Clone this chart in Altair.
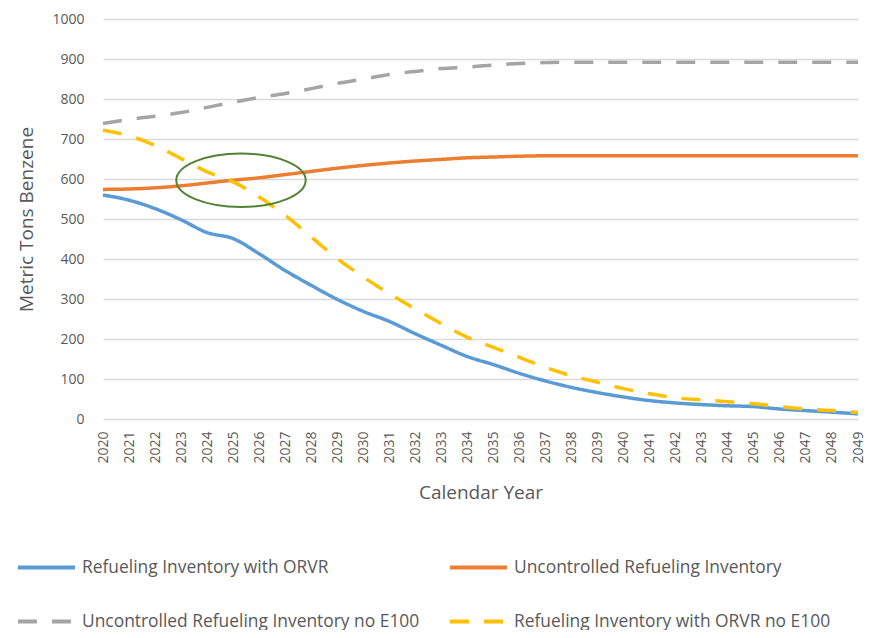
import altair as alt
import pandas as pd

years = [2020, 2021, 2022, 2023, 2024, 2025, 2026, 2027, 2028, 2029,
         2030, 2031, 2032, 2033, 2034, 2035, 2036, 2037, 2038, 2039,
         2040, 2041, 2042, 2043, 2044, 2045, 2046, 2047, 2048, 2049]

orvr = [560, 547, 526, 498, 466, 451, 413, 371, 334, 299,
        269, 244, 213, 184, 156, 136, 114, 95, 79, 66,
        55, 46, 40, 36, 33, 31, 25, 21, 17, 13]

uncontrolled = [574, 575, 578, 583, 590, 597, 603, 611, 619, 627,
                634, 640, 645, 649, 653, 655, 657, 658, 658, 658,
                658, 658, 658, 658, 658, 658, 658, 658, 658, 658]

uncontrolled_no_e100 = [739, 749, 757, 766, 779, 792, 804, 814, 826, 839,
                        850, 861, 869, 876, 880, 885, 889, 891, 892, 892,
                        892, 892, 892, 892, 892, 892, 892, 892, 892, 892]

orvr_no_e100 = [722, 708, 684, 651, 618, 593, 555, 509, 455, 401,
                355, 313, 275, 238, 204, 179, 154, 129, 108, 92,
                76, 63, 53, 48, 43, 38, 31, 25, 21, 16]

series_names = ["Refueling Inventory with ORVR",
                "Uncontrolled Refueling Inventory",
                "Uncontrolled Refueling Inventory no E100",
                "Refueling Inventory with ORVR no E100"]
series_colors = ["#5b9bd5", "#ed7d31", "#a5a5a5", "#ffc000"]
series_dash = [[1, 0], [1, 0], [19, 15], [19, 15]]

y_ticks = [0, 100, 200, 300, 400, 500, 600, 700, 800, 900, 1000]

# annotation ellipse (centre in data units)
ellipse_year = [2025.3]
ellipse_value = [597]

rows = []
for name, vals in zip(series_names, [orvr, uncontrolled, uncontrolled_no_e100, orvr_no_e100]):
    for yr, v in zip(years, vals):
        rows.append({"Year": yr, "Value": v, "Series": name})
df = pd.DataFrame(rows)
ell_df = pd.DataFrame({"Year": ellipse_year, "Value": ellipse_value})

FONT = "Open Sans"
TXT = "#595959"

x_enc = alt.X("Year:Q",
              scale=alt.Scale(domain=[2020, 2049], nice=False, zero=False),
              axis=alt.Axis(values=years, labelAngle=270, format="d",
                            title="Calendar Year", grid=False, ticks=False,
                            domain=False, labelPadding=12, titlePadding=20,
                            labelOverlap=False, labelFlush=False,
                            labelFontSize=14, labelColor=TXT, labelFont=FONT,
                            titleFontSize=19, titleFont=FONT, titleColor=TXT,
                            titleFontWeight="normal"))
y_enc = alt.Y("Value:Q",
              scale=alt.Scale(domain=[0, 1000], nice=False),
              axis=alt.Axis(values=y_ticks, format="d", title="Metric Tons Benzene",
                            grid=True, gridColor="#d9d9d9", gridWidth=1.3,
                            domain=False, ticks=False, labelPadding=19,
                            labelOverlap=False, labelFlush=False,
                            titlePadding=15,
                            labelFontSize=14, labelColor=TXT, labelFont=FONT,
                            titleFontSize=19, titleFont=FONT, titleColor=TXT,
                            titleFontWeight="normal"))

legend = alt.Legend(title=None, orient="none", legendX=-87, legendY=518,
                    columns=2, direction="horizontal", symbolType="stroke",
                    symbolSize=3249, symbolStrokeWidth=4, labelFontSize=17.4,
                    labelFont=FONT, labelColor=TXT, rowPadding=15,
                    columnPadding=22, labelOffset=5, labelLimit=0)

lines = alt.Chart(df).mark_line(strokeWidth=3.5, interpolate="monotone").encode(
    x=x_enc,
    y=y_enc,
    color=alt.Color("Series:N", scale=alt.Scale(domain=series_names, range=series_colors),
                    legend=legend),
    strokeDash=alt.StrokeDash("Series:N", scale=alt.Scale(domain=series_names, range=series_dash),
                              legend=legend),
)

b = 0.413
k = 0.5523
ell_path = (f"M -1 0 C -1 {-k*b:.4f} {-k:.4f} {-b} 0 {-b} "
            f"C {k:.4f} {-b} 1 {-k*b:.4f} 1 0 "
            f"C 1 {k*b:.4f} {k:.4f} {b} 0 {b} "
            f"C {-k:.4f} {b} -1 {k*b:.4f} -1 0 Z")

ellipse = alt.Chart(ell_df).mark_point(shape=ell_path, filled=False, size=16744,
                                        color="#548235", strokeWidth=2, opacity=1).encode(
    x=x_enc, y=y_enc)

chart = alt.layer(lines, ellipse).properties(
    width=755, height=400,
    autosize=alt.AutoSizeParams(type="none"),
    padding={"left": 95, "top": 11, "right": 14, "bottom": 211},
).configure_view(stroke="transparent")

chart.save("out.html", embed_options={"renderer": "svg", "actions": False})
